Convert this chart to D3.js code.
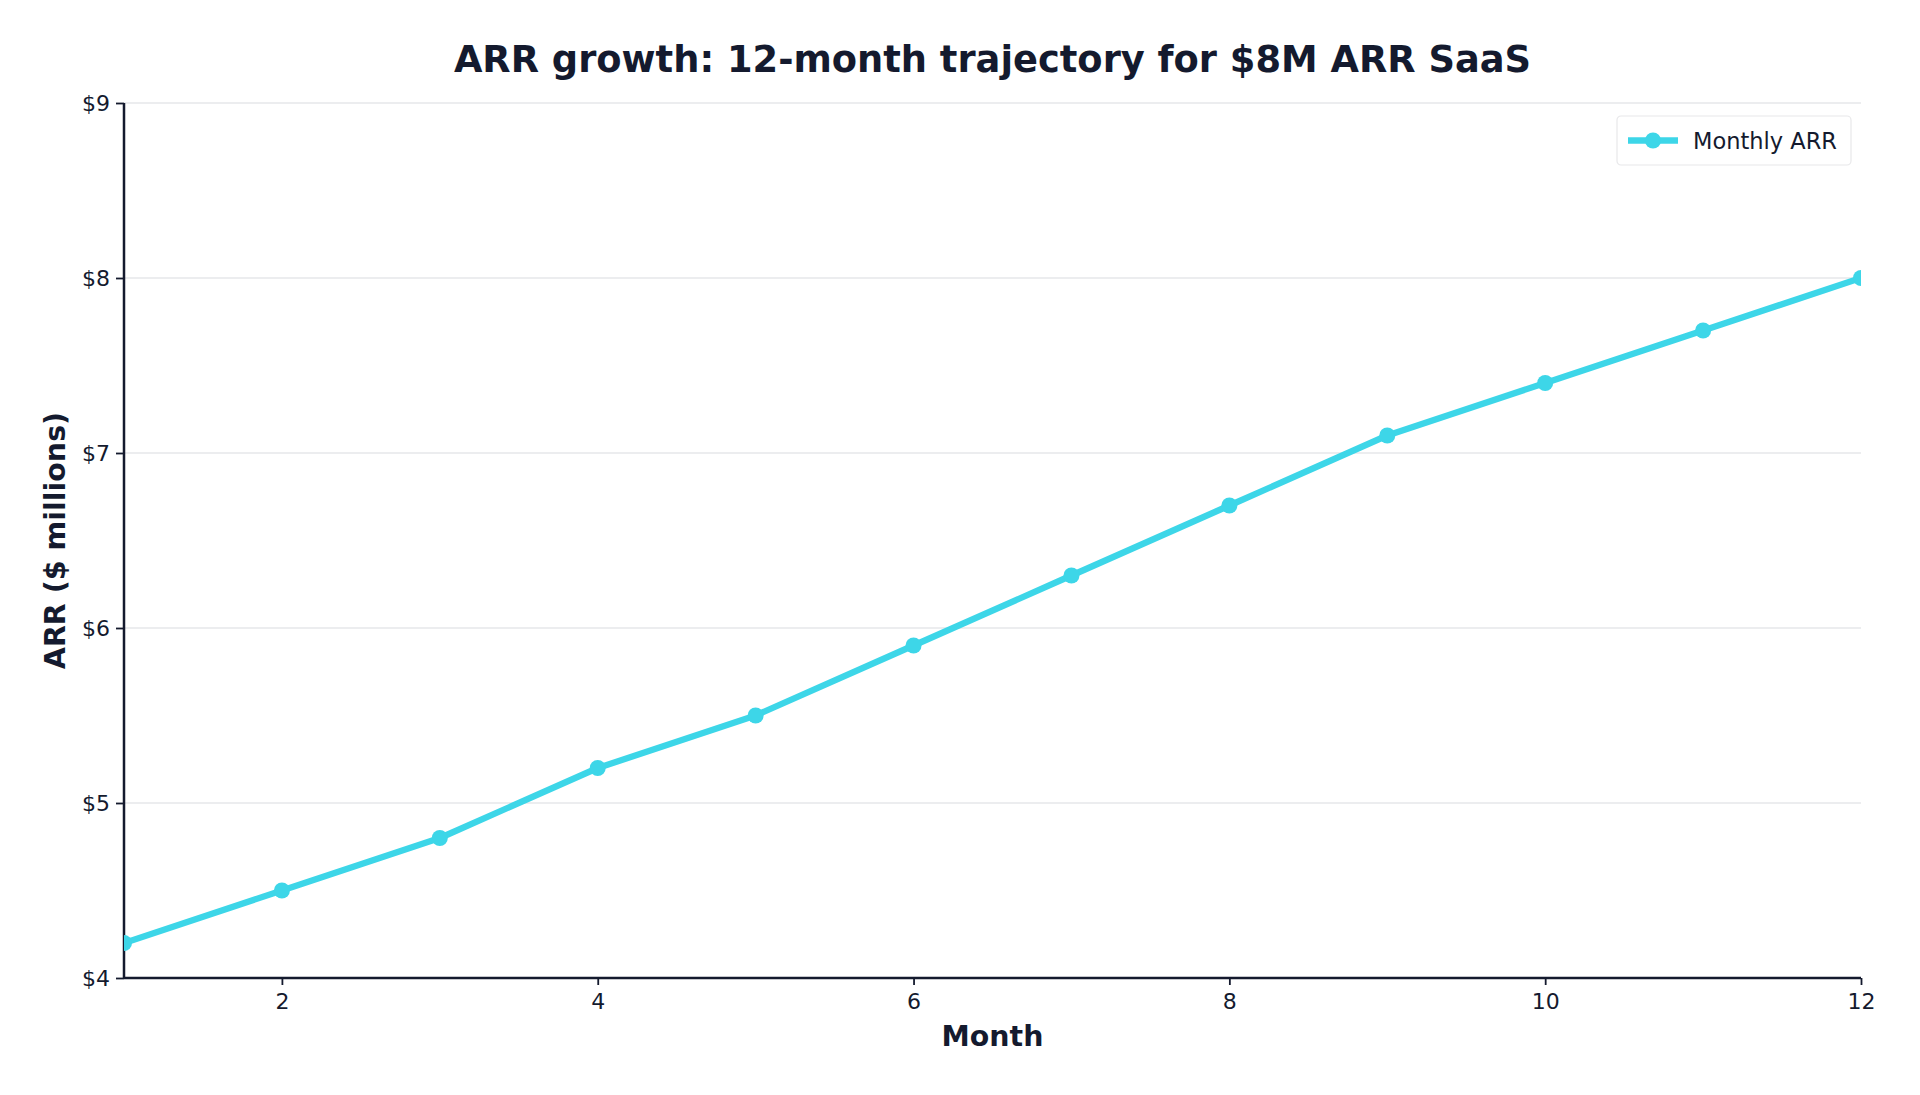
<!DOCTYPE html>
<html>
<head>
<meta charset="utf-8">
<script src="https://cdn.jsdelivr.net/npm/d3@7"></script>
<style>
  body { margin: 0; background: #ffffff; }
  text { font-family: "DejaVu Sans", sans-serif; }
</style>
</head>
<body>
<div id="chart"></div>
<script>
var months = [1, 2, 3, 4, 5, 6, 7, 8, 9, 10, 11, 12];
var arr = [4.2, 4.5, 4.8, 5.2, 5.5, 5.9, 6.3, 6.7, 7.1, 7.4, 7.7, 8.0];
var xTicks = [2, 4, 6, 8, 10, 12];
var yTicks = [4, 5, 6, 7, 8, 9];
var seriesName = "Monthly ARR";

function init()
{
  var W = 1920, H = 1095;
  var margin = {top: 103, right: 59, bottom: 117, left: 124};
  var width = W - margin.left - margin.right;
  var height = H - margin.top - margin.bottom;
  var dark = "#141a2e";
  var cyan = "#3dd6e8";

  var svg = d3.select("#chart")
    .append("svg")
    .attr("width", W)
    .attr("height", H);

  var g = svg.append("g")
    .attr("transform", "translate(" + margin.left + "," + margin.top + ")");

  var xScale = d3.scaleLinear().domain([1, 12]).range([0, width]);
  var yScale = d3.scaleLinear().domain([4, 9]).range([height, 0]);

  // grid
  g.append("g")
    .selectAll("line")
    .data(yTicks)
    .enter()
    .append("line")
      .attr("x1", 0)
      .attr("x2", width)
      .attr("y1", function(d) {return yScale(d);})
      .attr("y2", function(d) {return yScale(d);})
      .style("stroke", "#e6e7ea")
      .style("stroke-width", "1.5");

  var xAxis = d3.axisBottom(xScale)
    .tickValues(xTicks)
    .tickSize(7)
    .tickPadding(8)
    .tickFormat(d3.format("d"));

  var yAxis = d3.axisLeft(yScale)
    .tickValues(yTicks)
    .tickSize(8)
    .tickPadding(6)
    .tickFormat(function(d) {return "$" + d;});

  var gx = g.append("g")
    .attr("transform", "translate(0," + height + ")")
    .call(xAxis);

  var gy = g.append("g")
    .call(yAxis);

  [gx, gy].forEach(function(a) {
    a.select(".domain").style("stroke", dark).style("stroke-width", "2.5");
    a.selectAll(".tick line").style("stroke", dark).style("stroke-width", "1.8");
    a.selectAll(".tick text")
      .style("font-family", "DejaVu Sans")
      .style("font-size", "22px")
      .style("fill", dark);
  });
  gy.select(".domain").attr("d", "M0," + height + "V0");
  gx.select(".domain").attr("d", "M0,0H" + width);

  // clip so edge markers are cut like the original
  svg.append("defs").append("clipPath")
    .attr("id", "plotclip")
    .append("rect")
      .attr("x", 0)
      .attr("y", -20)
      .attr("width", width)
      .attr("height", height + 20);

  var line = d3.line()
    .x(function(d, i) {return xScale(months[i]);})
    .y(function(d) {return yScale(d);});

  var plot = g.append("g").attr("clip-path", "url(#plotclip)");

  plot.append("path")
    .datum(arr)
    .attr("d", line)
    .style("fill", "none")
    .style("stroke", cyan)
    .style("stroke-width", "6.3")
    .style("stroke-linejoin", "round");

  plot.selectAll("circle")
    .data(arr)
    .enter()
    .append("circle")
      .attr("cx", function(d, i) {return xScale(months[i]);})
      .attr("cy", function(d) {return yScale(d);})
      .attr("r", 8)
      .style("fill", cyan);

  // legend
  var legend = svg.append("g")
    .attr("transform", "translate(1617,116)");

  legend.append("rect")
    .attr("width", 234)
    .attr("height", 49)
    .attr("rx", 4)
    .style("fill", "#ffffff")
    .style("stroke", "#e8e8ea")
    .style("stroke-width", "1.2");

  legend.append("line")
    .attr("x1", 11).attr("x2", 61)
    .attr("y1", 24.5).attr("y2", 24.5)
    .style("stroke", cyan)
    .style("stroke-width", "6.3");

  legend.append("circle")
    .attr("cx", 36).attr("cy", 24.5).attr("r", 8)
    .style("fill", cyan);

  legend.append("text")
    .attr("x", 76)
    .attr("y", 24.5)
    .attr("dy", "0.36em")
    .style("font-size", "22.5px")
    .style("fill", dark)
    .text(seriesName);

  // titles
  svg.append("text")
    .attr("x", margin.left + width / 2)
    .attr("y", 72)
    .attr("text-anchor", "middle")
    .style("font-size", "36.8px")
    .style("font-weight", "bold")
    .style("fill", dark)
    .text("ARR growth: 12-month trajectory for $8M ARR SaaS");

  svg.append("text")
    .attr("x", margin.left + width / 2)
    .attr("y", 1046)
    .attr("text-anchor", "middle")
    .style("font-size", "28.4px")
    .style("font-weight", "bold")
    .style("fill", dark)
    .text("Month");

  svg.append("text")
    .attr("transform", "translate(65," + (margin.top + height / 2) + ") rotate(-90)")
    .attr("text-anchor", "middle")
    .style("font-size", "28.5px")
    .style("font-weight", "bold")
    .style("fill", dark)
    .text("ARR ($ millions)");
}

window.onload = init;
</script>
</body>
</html>
